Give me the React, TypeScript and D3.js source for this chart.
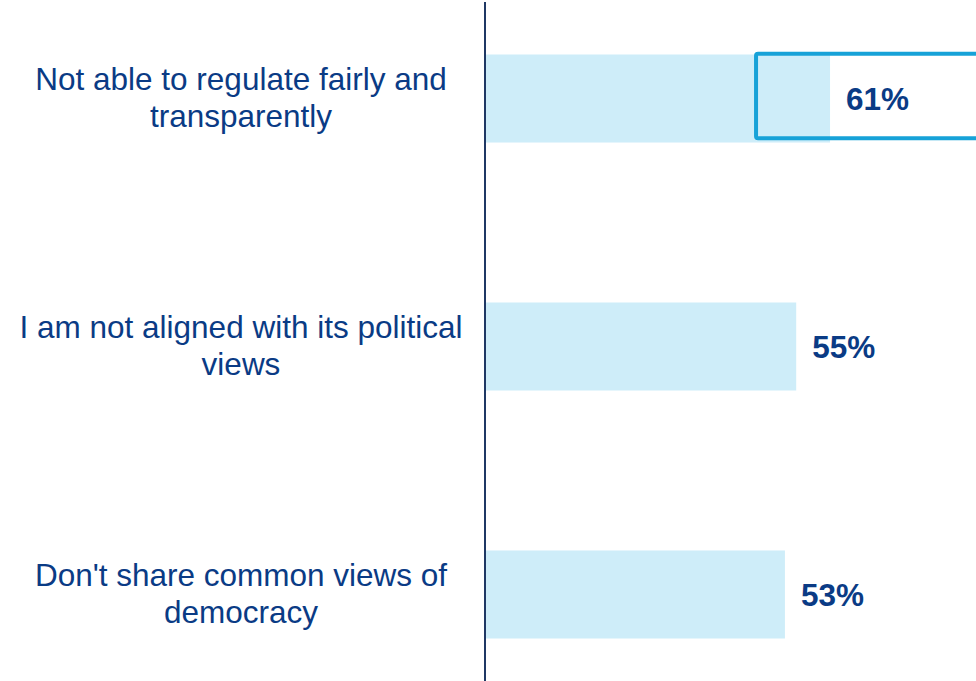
import React, { useEffect, useRef } from 'react';
import * as d3 from 'd3';

const categories = [
  ['Not able to regulate fairly and', 'transparently'],
  ['I am not aligned with its political', 'views'],
  ["Don't share common views of", 'democracy'],
];
const values = [61, 55, 53];
const highlighted = [true, false, false];

/* BarChart: draws the horizontal bars, labels and highlight box with d3 */
function BarChart({ width, height }: { width: number; height: number }) {
  const ref = useRef<SVGSVGElement>(null);
  useEffect(() => {
    const svg = d3.select(ref.current);
    svg.selectAll('*').remove();
    svg.attr('width', width).attr('height', height);

    const font = "'Liberation Sans', Arial, sans-serif";
    const textColor = '#0a3b85';
    const idx = values.map((_, i) => i);

    const x = d3.scaleLinear().domain([0, 100]).range([486, 486 + 564]);
    const y = d3.scaleBand<number>()
      .domain(idx)
      .range([54.5, 638.5])
      .paddingInner(0.645)
      .paddingOuter(0);

    // bars
    svg.selectAll('rect.bar').data(idx).enter()
      .append('rect')
      .attr('class', 'bar')
      .attr('x', x(0))
      .attr('y', (d) => y(d)!)
      .attr('width', (d) => x(values[d]) - x(0))
      .attr('height', y.bandwidth())
      .attr('fill', '#ceedf9');

    // axis line
    svg.append('line')
      .attr('x1', x(0) - 1).attr('x2', x(0) - 1)
      .attr('y1', 2).attr('y2', height)
      .attr('stroke', '#1f3864')
      .attr('stroke-width', 2);

    // highlight box around the top value
    idx.filter((d) => highlighted[d]).forEach((d) => {
      svg.append('rect')
        .attr('x', x(values[d]) - 74)
        .attr('y', y(d)! - 0.8)
        .attr('width', width - x(values[d]) + 76)
        .attr('height', y.bandwidth() - 3.5)
        .attr('rx', 2)
        .attr('fill', 'none')
        .attr('stroke', '#17a2d8')
        .attr('stroke-width', 4);
    });

    // value labels
    svg.selectAll('text.value').data(idx).enter()
      .append('text')
      .attr('class', 'value')
      .attr('x', (d) => x(values[d]) + 16)
      .attr('y', (d) => y(d)! + y.bandwidth() / 2)
      .attr('dy', '0.36em')
      .attr('font-family', font)
      .attr('font-weight', 'bold')
      .attr('font-size', 31.5)
      .attr('fill', textColor)
      .text((d) => `${values[d]}%`);

    // category labels
    const labels = svg.selectAll('text.cat').data(idx).enter()
      .append('text')
      .attr('class', 'cat')
      .attr('text-anchor', 'middle')
      .attr('font-family', font)
      .attr('font-size', 31.5)
      .attr('fill', textColor);
    labels.each(function (d) {
      const t = d3.select(this);
      const cy = y(d)! + y.bandwidth() / 2;
      categories[d].forEach((line, j) => {
        t.append('tspan')
          .attr('x', 241)
          .attr('y', cy - 8.5 + j * 36.7)
          .text(line);
      });
    });
  }, [width, height]);

  return <svg ref={ref} style={{ position: 'absolute', left: 0, top: 0 }} />;
}

export default function App() {
  return <BarChart width={976} height={681} />;
}
